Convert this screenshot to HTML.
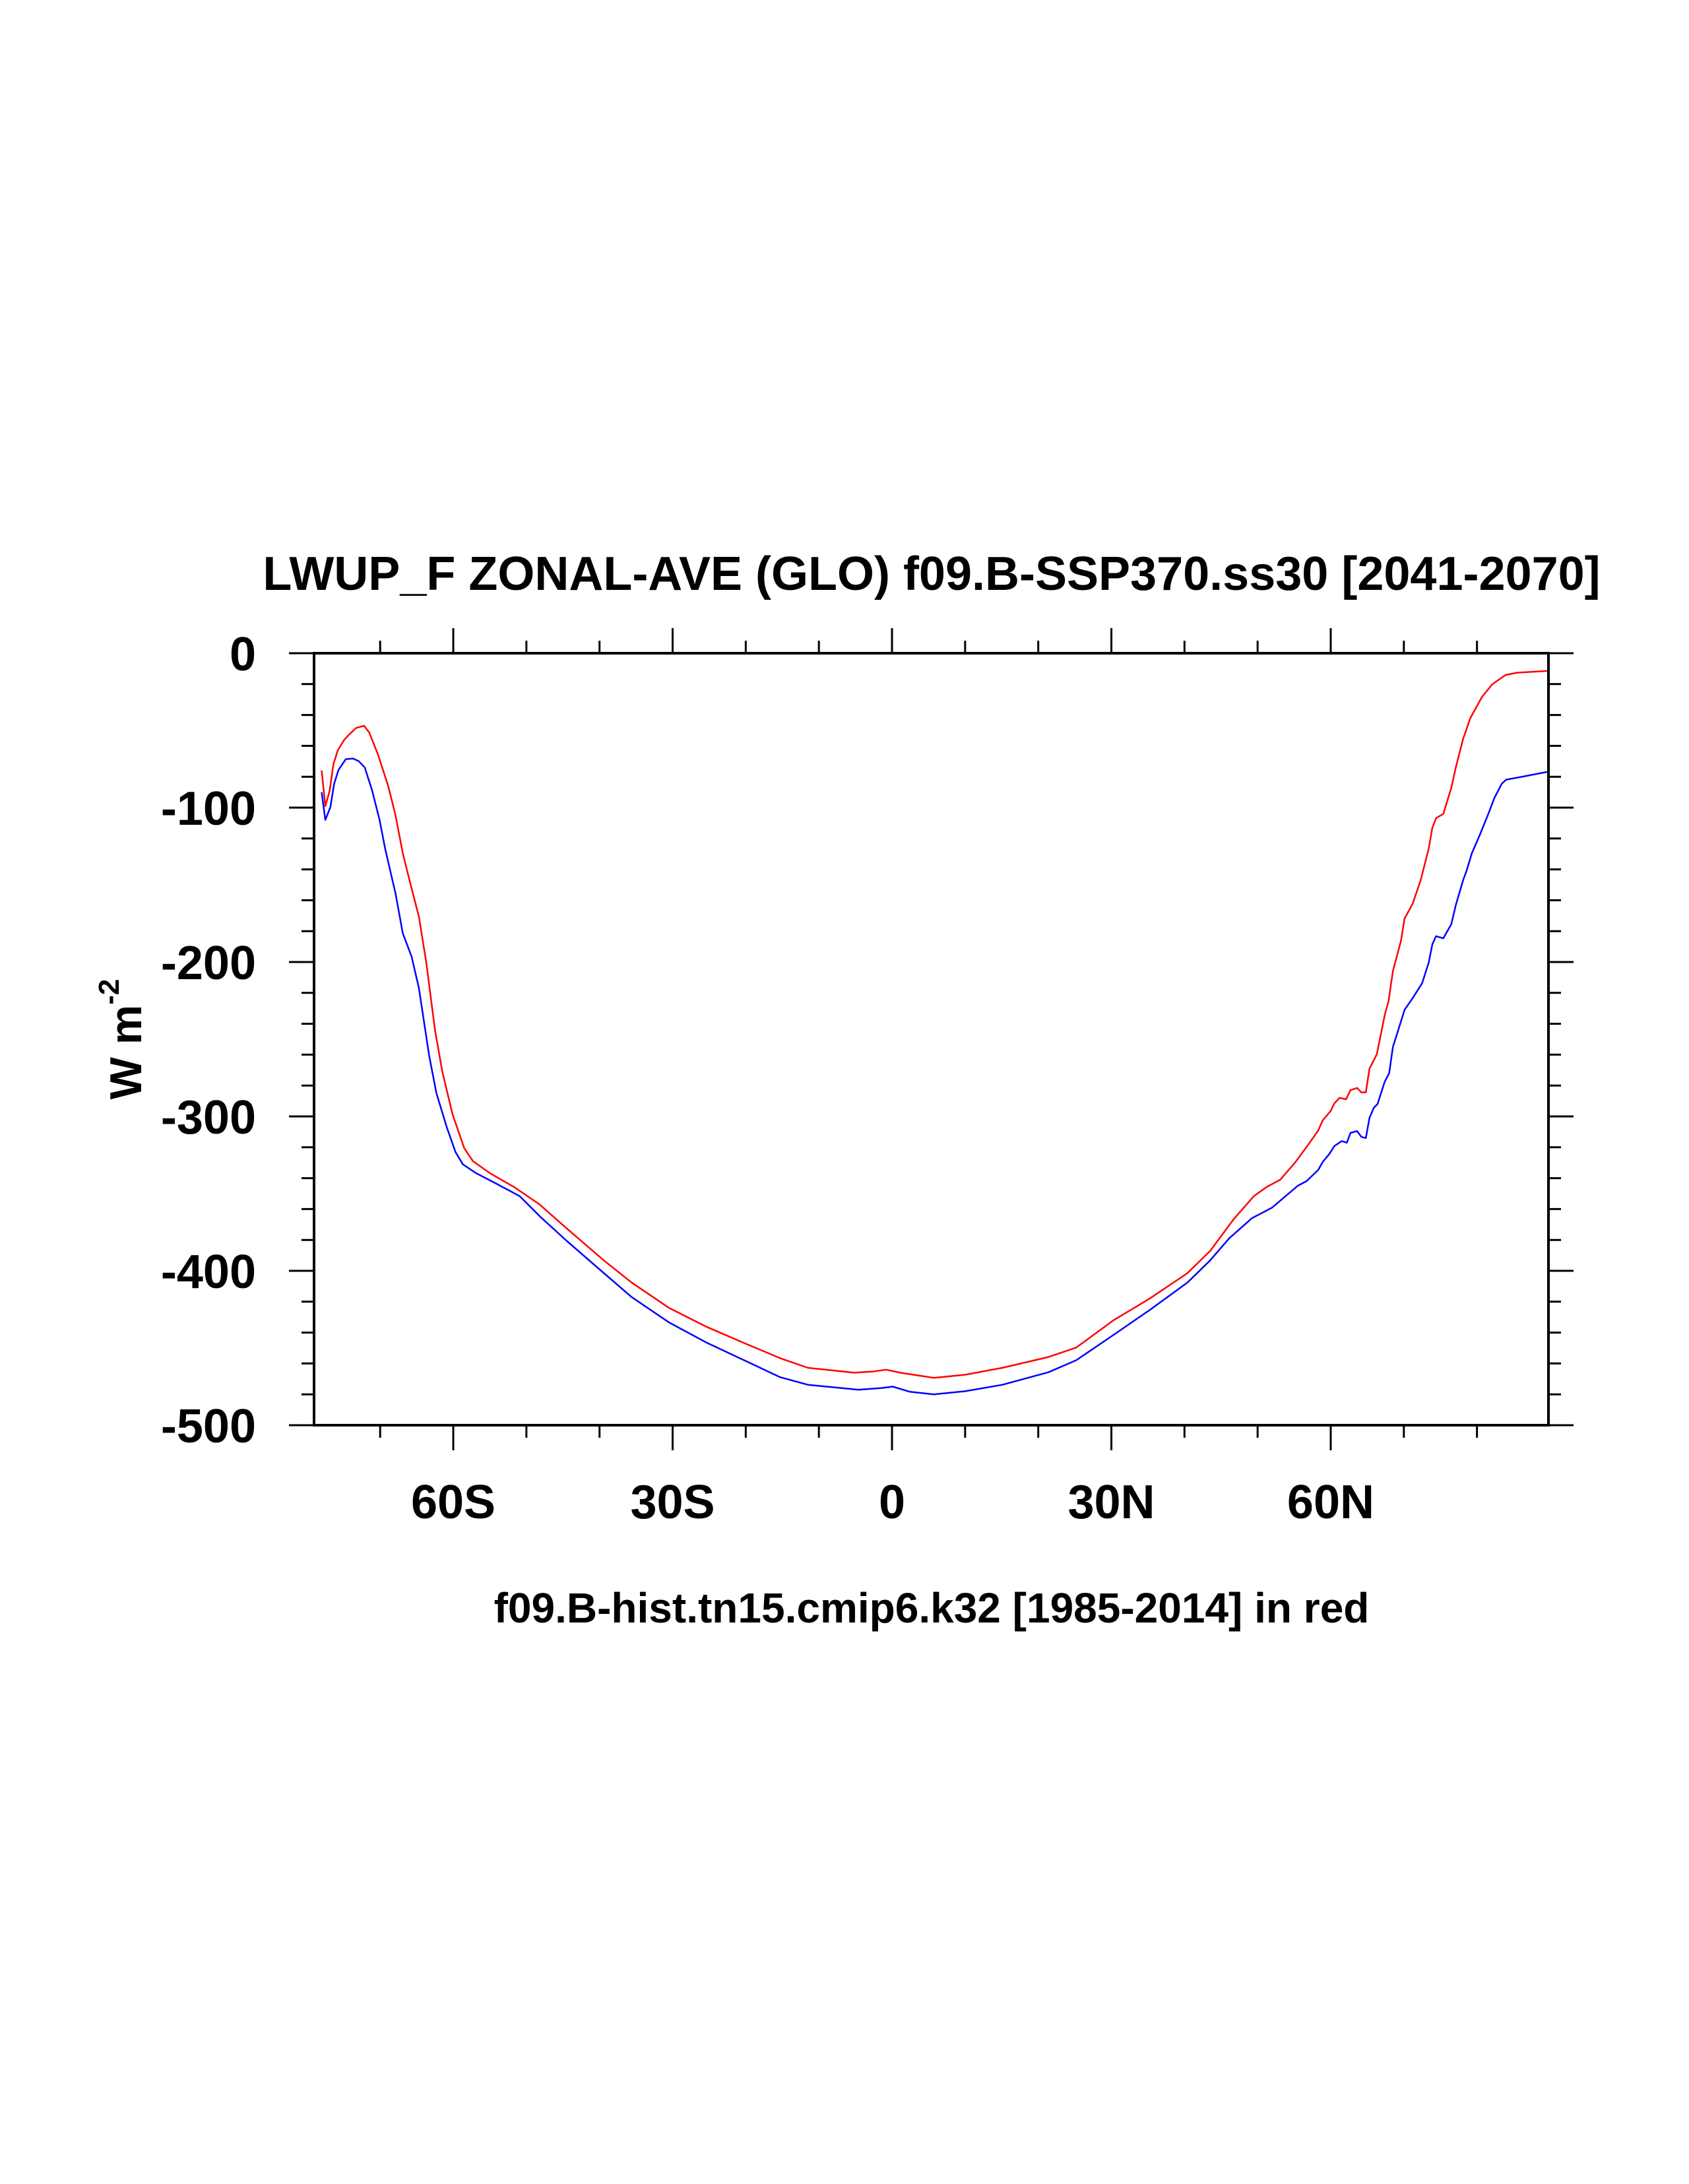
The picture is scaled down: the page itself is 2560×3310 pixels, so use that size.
<!DOCTYPE html>
<html><head><meta charset="utf-8"><style>
html,body{margin:0;padding:0;background:#fff;}
svg{display:block;}
text{font-family:"Liberation Sans",Arial,sans-serif;font-weight:bold;fill:#000;}
</style></head>
<body>
<svg id="chart" width="2560" height="3310" viewBox="0 0 2560 3310" xmlns="http://www.w3.org/2000/svg">
<text x="1412" y="894" font-size="72" text-anchor="middle">LWUP_F ZONAL-AVE (GLO) f09.B-SSP370.ss30 [2041-2070]</text>
<text x="1412" y="2459" font-size="64" text-anchor="middle">f09.B-hist.tn15.cmip6.k32 [1985-2014] in red</text>
<text transform="translate(214,1575) rotate(-90)" font-size="68" text-anchor="middle">W m<tspan font-size="44" dy="-34">-2</tspan></text>
<g id="axes"></g>
<g id="series"></g>
</svg>
<script>
const xTickLats = [-60, -30, 0, 30, 60];
const xTickLabels = ["60S", "30S", "0", "30N", "60N"];
const yTickValues = [0, -100, -200, -300, -400, -500];
const yTickLabels = ["0", "-100", "-200", "-300", "-400", "-500"];
const latRed = [-78,-77.5,-76.9,-76.4,-75.8,-74.9,-74.3,-73.3,-72.2,-71.5,-70.3,-68.9,-67.9,-66.9,-65.9,-64.7,-63.7,-62.5,-61.5,-60.1,-58.5,-57.3,-54.9,-51.6,-48.2,-44.4,-39.4,-35.6,-30.5,-25.4,-20.4,-15.3,-11.5,-5.2,-2.7,-0.8,1.1,5.7,10,15.1,21.4,25.2,30.3,35.3,40.4,43.5,46.7,49.5,51.3,53.1,55.1,56.9,58.3,58.9,60,60.5,61.2,62.1,62.7,63.6,64.2,64.8,65.3,66.3,67.4,67.9,68.5,69.6,70.1,71.2,72.3,73.4,73.9,74.4,75.4,76.5,77.1,78.1,79.1,80.7,82.1,83.9,85.5,89.6];
const valRed = [-76,-99,-89,-72,-63,-56,-53,-48.4,-47,-51.3,-65.6,-86,-105,-129.6,-148.6,-170.6,-200,-244,-271,-298.6,-320.5,-329,-337,-346,-357,-372.9,-393.3,-407.6,-424,-436.2,-446.4,-456.6,-462.8,-466,-465.3,-464,-466,-469.3,-467.3,-462.8,-455.8,-449.7,-432,-417.8,-401.5,-387.2,-366.7,-351.6,-345.5,-341,-330,-318.5,-309,-302.6,-296.4,-291.5,-288,-288.9,-283,-281.6,-284.4,-284.4,-269,-259.8,-234,-225.6,-205.9,-186.3,-171.8,-162.3,-147,-126.5,-113,-106.8,-104,-87,-74,-55.5,-41.9,-28.2,-20.1,-14.1,-12.6,-11.5];
const latBlue = [-78,-77.5,-76.8,-76.3,-75.7,-74.7,-73.7,-72.9,-72.1,-71.1,-70.1,-69.3,-67.9,-66.9,-65.7,-64.7,-63.3,-62.3,-60.9,-59.7,-58.7,-56.9,-54.1,-50.9,-48.1,-44.4,-39.4,-35.6,-30.5,-25.4,-20.4,-15.3,-11.5,-4.6,-1.4,0.1,2.4,5.7,10,15.1,21.4,25.2,30.3,35.3,40.4,43.5,46.1,49.2,52,55.5,56.7,58.3,58.9,59.8,60.5,61.5,62.2,62.7,63.6,64.2,64.8,65.3,65.9,66.4,67.4,68,68.5,69.3,70.1,71.2,72.5,73.4,73.9,74.4,75.4,76.5,77.1,78.1,78.6,79.3,80.4,81.5,82.4,83.4,84,85.5,89.6];
const valBlue = [-90,-108,-99.6,-84.6,-75.7,-68.6,-68.2,-70,-74,-88.9,-107.6,-126.9,-155.6,-181.4,-196.4,-216.8,-260.5,-285,-306.8,-323,-331,-336.7,-343.6,-351.7,-365,-381,-401.5,-417,-433.4,-446.4,-457.5,-468.9,-473.8,-477,-475.9,-475,-478.3,-480,-478,-473.8,-465.7,-457.9,-441.5,-425.2,-407.6,-393.3,-379,-366,-359,-344.9,-341.9,-334.6,-329.5,-324.4,-319.2,-316,-317,-310.7,-309.5,-313.3,-314,-300.9,-294.3,-292,-277.3,-272,-255,-243,-231,-223.4,-213.7,-200.4,-188.5,-183.3,-184.6,-175.4,-163.2,-147,-140.6,-129.5,-117.5,-104.6,-93.6,-84.5,-81.9,-80.6,-76.9];

const NS = "http://www.w3.org/2000/svg";
const L = 476, R = 2347, T = 990, B = 2160;
const latMin = (L - 1352) / 11.083, latMax = (R - 1352) / 11.083;
function xPos(lat){ return L + (lat - latMin) / (latMax - latMin) * (R - L); }
function yPos(v){ return T + (0 - v) / 500 * (B - T); }
function mk(tag, attrs, parent){ const e = document.createElementNS(NS, tag); for (const k in attrs) e.setAttribute(k, attrs[k]); parent.appendChild(e); return e; }
const axes = document.getElementById('axes');
const series = document.getElementById('series');
const frame = mk('rect', {x:L, y:T, width:R-L, height:B-T, fill:'none', stroke:'#000', 'stroke-width':4}, axes);


for (let lat = -70; lat <= 80; lat += 10) {
  const major = xTickLats.indexOf(lat) >= 0;
  const len = major ? 38 : 19;
  const x = xPos(lat);
  const t1 = mk('line', {x1:x, x2:x, y1:T, y2:T-len, stroke:'#000', 'stroke-width':3}, axes);
  
  
  const t2 = mk('line', {x1:x, x2:x, y1:B, y2:B+len, stroke:'#000', 'stroke-width':3}, axes);
  
  
}
xTickLats.forEach((lat, i) => {
  const t = mk('text', {x:xPos(lat), y:2301, 'font-size':72, 'text-anchor':'middle'}, axes);
  t.textContent = xTickLabels[i];
  
  
});
for (let v = 0; v >= -500; v -= 20) {
  const major = v % 100 === 0;
  const len = major ? 38 : 19;
  const y = yPos(v);
  const t1 = mk('line', {x1:L, x2:L-len, y1:y, y2:y, stroke:'#000', 'stroke-width':3}, axes);
  
  
  const t2 = mk('line', {x1:R, x2:R+len, y1:y, y2:y, stroke:'#000', 'stroke-width':3}, axes);
  
  
}
yTickValues.forEach((v, i) => {
  const t = mk('text', {x:388, y:yPos(v)+26, 'font-size':72, 'text-anchor':'end'}, axes);
  t.textContent = yTickLabels[i];
  
  
});
function drawLine(lats, vals, color, name){
  const pts = lats.map((la, i) => xPos(la).toFixed(1) + ',' + yPos(vals[i]).toFixed(1)).join(' ');
  const p = mk('polyline', {points:pts, fill:'none', stroke:color, 'stroke-width':2.5, 'stroke-linejoin':'round'}, series);
  
  
}
drawLine(latBlue, valBlue, '#0000ff', 'ssp370-line');
drawLine(latRed, valRed, '#ff0000', 'hist-line');
</script>
</body></html>
